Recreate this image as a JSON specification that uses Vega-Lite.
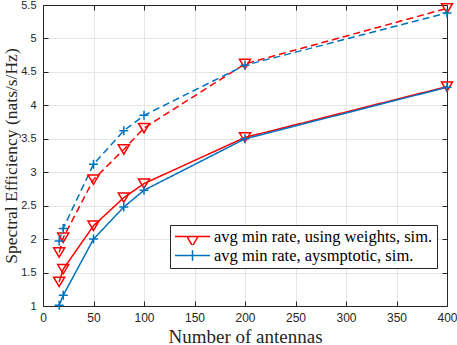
{
  "$schema": "https://vega.github.io/schema/vega-lite/v6.json",
  "autosize": {"type": "none"},
  "padding": {"left": 43, "top": 5, "right": 10, "bottom": 39},
  "width": 404,
  "height": 301,
  "background": "white",
  "config": {"view": {"stroke": "#262626", "strokeWidth": 1}, "font": "Liberation Sans"},
  "data": {"values": [
    {"n": 16, "se": 1.36, "method": "w", "style": "solid", "series": "w-solid"},
    {"n": 20, "se": 1.55, "method": "w", "style": "solid", "series": "w-solid"},
    {"n": 50, "se": 2.2, "method": "w", "style": "solid", "series": "w-solid"},
    {"n": 80, "se": 2.62, "method": "w", "style": "solid", "series": "w-solid"},
    {"n": 100, "se": 2.83, "method": "w", "style": "solid", "series": "w-solid"},
    {"n": 200, "se": 3.52, "method": "w", "style": "solid", "series": "w-solid"},
    {"n": 400, "se": 4.28, "method": "w", "style": "solid", "series": "w-solid"},
    {"n": 16, "se": 1.01, "method": "a", "style": "solid", "series": "a-solid"},
    {"n": 20, "se": 1.16, "method": "a", "style": "solid", "series": "a-solid"},
    {"n": 50, "se": 2.0, "method": "a", "style": "solid", "series": "a-solid"},
    {"n": 80, "se": 2.48, "method": "a", "style": "solid", "series": "a-solid"},
    {"n": 100, "se": 2.73, "method": "a", "style": "solid", "series": "a-solid"},
    {"n": 200, "se": 3.5, "method": "a", "style": "solid", "series": "a-solid"},
    {"n": 400, "se": 4.27, "method": "a", "style": "solid", "series": "a-solid"},
    {"n": 16, "se": 1.8, "method": "w", "style": "dashed", "series": "w-dashed"},
    {"n": 20, "se": 2.02, "method": "w", "style": "dashed", "series": "w-dashed"},
    {"n": 50, "se": 2.89, "method": "w", "style": "dashed", "series": "w-dashed"},
    {"n": 80, "se": 3.34, "method": "w", "style": "dashed", "series": "w-dashed"},
    {"n": 100, "se": 3.66, "method": "w", "style": "dashed", "series": "w-dashed"},
    {"n": 200, "se": 4.62, "method": "w", "style": "dashed", "series": "w-dashed"},
    {"n": 400, "se": 5.45, "method": "w", "style": "dashed", "series": "w-dashed"},
    {"n": 16, "se": 1.97, "method": "a", "style": "dashed", "series": "a-dashed"},
    {"n": 20, "se": 2.16, "method": "a", "style": "dashed", "series": "a-dashed"},
    {"n": 50, "se": 3.12, "method": "a", "style": "dashed", "series": "a-dashed"},
    {"n": 80, "se": 3.62, "method": "a", "style": "dashed", "series": "a-dashed"},
    {"n": 100, "se": 3.85, "method": "a", "style": "dashed", "series": "a-dashed"},
    {"n": 200, "se": 4.6, "method": "a", "style": "dashed", "series": "a-dashed"},
    {"n": 400, "se": 5.38, "method": "a", "style": "dashed", "series": "a-dashed"}
  ]},
  "layer": [
    {
      "mark": {"type": "line", "strokeWidth": 1.5},
      "encoding": {
        "x": {"field": "n", "type": "quantitative",
          "scale": {"domain": [0, 400], "nice": false},
          "axis": {"orient": "bottom", "values": [0, 50, 100, 150, 200, 250, 300, 350, 400],
            "grid": true, "gridColor": "#e6e6e6", "tickSize": -5, "tickColor": "#262626",
            "domainColor": "#262626", "labelFont": "Liberation Sans", "labelFontSize": 12,
            "labelColor": "#262626", "labelPadding": 11, "labelFlush": false,
            "title": "Number of antennas", "titleFont": "Liberation Serif", "titleFontSize": 19,
            "titleFontWeight": "normal", "titleColor": "#262626", "titlePadding": 4}},
        "y": {"field": "se", "type": "quantitative",
          "scale": {"domain": [1, 5.5], "nice": false, "zero": false},
          "axis": {"orient": "left", "values": [1, 1.5, 2, 2.5, 3, 3.5, 4, 4.5, 5, 5.5],
            "format": ".2~f", "grid": true, "gridColor": "#e6e6e6", "tickSize": -5,
            "tickColor": "#262626", "domainColor": "#262626", "labelFont": "Liberation Sans",
            "labelFontSize": 11, "labelColor": "#262626", "labelPadding": 12, "labelFlush": false,
            "title": "Spectral Efficiency (nats/s/Hz)", "titleFont": "Liberation Serif",
            "titleFontSize": 17.5, "titleFontWeight": "normal", "titleColor": "#262626", "titlePadding": 0}},
        "stroke": {"field": "method", "type": "nominal",
          "scale": {"domain": ["w", "a"], "range": ["#FF0000", "#0072BD"]}, "legend": null},
        "strokeDash": {"field": "style", "type": "nominal",
          "scale": {"domain": ["solid", "dashed"], "range": [[1, 0], [7, 4]]}, "legend": null},
        "detail": {"field": "series"}
      }
    },
    {
      "mark": {"type": "point", "filled": false, "size": 144, "strokeWidth": 1.5, "opacity": 1},
      "encoding": {
        "x": {"field": "n", "type": "quantitative",
          "axis": {"orient": "top", "values": [0, 50, 100, 150, 200, 250, 300, 350, 400],
            "labels": false, "grid": false, "tickSize": -5, "tickColor": "#262626",
            "domainColor": "#262626", "title": null}},
        "y": {"field": "se", "type": "quantitative",
          "axis": {"orient": "right", "values": [1, 1.5, 2, 2.5, 3, 3.5, 4, 4.5, 5, 5.5],
            "labels": false, "grid": false, "tickSize": -5, "tickColor": "#262626",
            "domainColor": "#262626", "title": null}},
        "color": {"field": "method", "type": "nominal",
          "scale": {"domain": ["w", "a", "wL", "aL"], "range": ["#FF0000", "#0072BD", "#FF0000", "#0072BD"]},
          "legend": {"orient": "none", "legendX": 127, "legendY": 220, "title": null,
            "values": ["wL", "aL"],
            "labelExpr": "datum.value == 'wL' ? 'avg min rate, using weights, sim.' : 'avg min rate, aysmptotic, sim.'",
            "labelFont": "Liberation Serif", "labelFontSize": 16.5, "labelColor": "#000000",
            "labelLimit": 400, "labelOffset": 3, "symbolSize": 1225, "symbolStrokeWidth": 1.5,
            "symbolFillColor": "transparent", "clipHeight": 15, "rowPadding": 2,
            "strokeColor": "#262626", "fillColor": "white", "padding": 4, "cornerRadius": 0}},
        "shape": {"field": "method", "type": "nominal",
          "scale": {"domain": ["w", "a", "wL", "aL"], "range": [
            "M-0.92,-0.78L0.92,-0.78L0,0.78Z",
            "M-0.75,0L0.75,0M0,-0.75L0,0.75",
            "M-1,0L1,0M-0.31,0L0.31,0L0,0.55Z",
            "M-1,0L1,0M0,-0.3L0,0.3"]},
          "legend": {"orient": "none", "legendX": 127, "legendY": 220, "title": null,
            "values": ["wL", "aL"],
            "labelExpr": "datum.value == 'wL' ? 'avg min rate, using weights, sim.' : 'avg min rate, aysmptotic, sim.'",
            "labelFont": "Liberation Serif", "labelFontSize": 16.5, "labelColor": "#000000",
            "labelLimit": 400, "labelOffset": 3, "symbolSize": 1225, "symbolStrokeWidth": 1.5,
            "symbolFillColor": "transparent", "clipHeight": 15, "rowPadding": 2,
            "strokeColor": "#262626", "fillColor": "white", "padding": 4, "cornerRadius": 0}}
      }
    }
  ],
  "resolve": {"axis": {"x": "independent", "y": "independent"}}
}
